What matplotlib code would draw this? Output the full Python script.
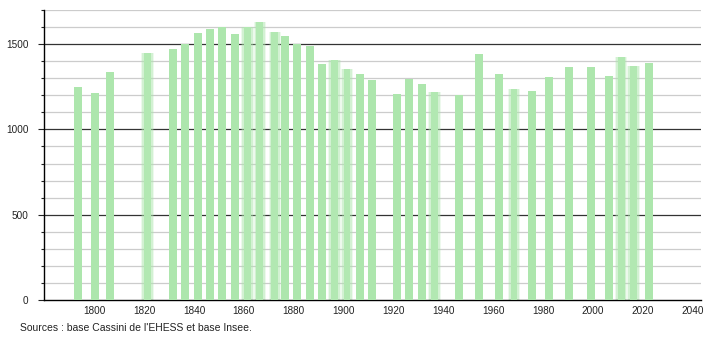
import matplotlib
matplotlib.use("Agg")
import matplotlib.pyplot as plt
from matplotlib.ticker import MultipleLocator

years = [1793, 1800, 1806, 1821, 1831, 1836, 1841, 1846, 1851, 1856, 1861, 1866,
         1872, 1876, 1881, 1886, 1891, 1896, 1901, 1906, 1911, 1921, 1926, 1931,
         1936, 1946, 1954, 1962, 1968, 1975, 1982, 1990, 1999, 2006, 2011, 2016, 2022]
population = [1251, 1212, 1337, 1447, 1473, 1500, 1565, 1590, 1598, 1559, 1598, 1627,
              1570, 1547, 1500, 1488, 1386, 1406, 1353, 1324, 1290, 1206, 1298, 1265,
              1220, 1200, 1441, 1324, 1235, 1225, 1306, 1365, 1365, 1312, 1422, 1369, 1388]
x_ticks = [1800, 1820, 1840, 1860, 1880, 1900, 1920, 1940, 1960, 1980, 2000, 2020, 2040]
y_ticks = [0, 500, 1000, 1500]
source_text = "Sources : base Cassini de l'EHESS et base Insee."

# years whose bars look softened in the reference (style only)
soft_years = {1821, 1861, 1866, 1872, 1896, 1901, 1936, 1968, 2011, 2016}

plt.rcParams['font.family'] = ['Liberation Sans', 'DejaVu Sans']

fig = plt.figure(figsize=(7.1, 3.4), dpi=100)
ax = fig.add_axes([44/710, 1 - 300/340, (701-44)/710, 290/340])

bar_color = '#ade6ad'
bw = 3.2
offset = 0.4
for yr, v in zip(years, population):
    xc = yr + offset
    if yr in soft_years:
        for w, a in [(5.0, 0.22), (4.2, 0.4)]:
            ax.bar(xc, v, width=w, color=bar_color, alpha=a, linewidth=0, zorder=2)
        ax.bar(xc, v, width=bw * 0.85, color='#b2e8b2', linewidth=0, zorder=3)
    else:
        ax.bar(xc, v, width=bw, color=bar_color, linewidth=0, zorder=3)

ax.set_xlim(1779.8, 2043.4)
ax.set_ylim(0, 1700)

# gridlines
for gy in range(100, 1701, 100):
    if gy % 500 == 0:
        ax.axhline(gy, color='#333333', linewidth=0.9, zorder=1)
    else:
        ax.axhline(gy, color='#cccccc', linewidth=0.9, zorder=1)

ax.set_xticks(x_ticks)
ax.set_xticklabels([str(t) for t in x_ticks])
ax.set_yticks(y_ticks)
ax.set_yticklabels([str(t) for t in y_ticks])
ax.yaxis.set_minor_locator(MultipleLocator(100))

ax.tick_params(axis='x', length=0, pad=4, labelsize=7.2, colors='#222222')
ax.tick_params(axis='y', which='major', length=4, width=0.8, pad=7, labelsize=7.2,
               colors='#222222', direction='out')
ax.tick_params(axis='y', which='minor', length=2, width=0.8, color='#222222', direction='out')

for s in ['top', 'right']:
    ax.spines[s].set_visible(False)
ax.spines['left'].set_color('black')
ax.spines['bottom'].set_color('black')
ax.spines['left'].set_linewidth(1.0)
ax.spines['bottom'].set_linewidth(1.0)
ax.set_facecolor('white')

fig.text(20/710, 1 - 328/340, source_text, fontsize=7.5, color='#222222',
         ha='left', va='center')

fig.savefig('out.png', dpi=100, facecolor='white')
